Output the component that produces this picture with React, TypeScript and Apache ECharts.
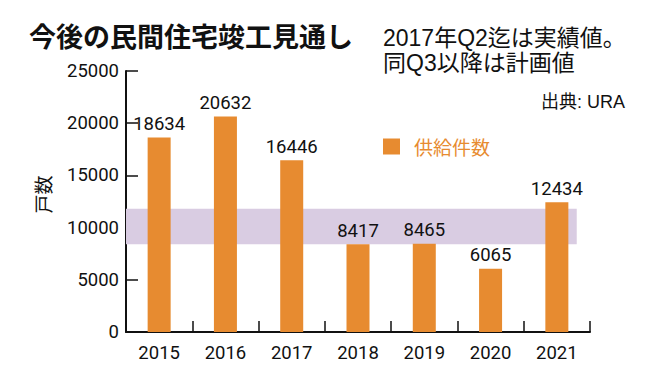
import React, { useEffect, useRef } from 'react';
import * as echarts from 'echarts';

const categories = ['2015', '2016', '2017', '2018', '2019', '2020', '2021'];
const supply = [18634, 20632, 16446, 8417, 8465, 6065, 12434];
const seriesName = '供給件数';
const bandLow = 8400;
const bandHigh = 11800;
const bandEnd = 6.8;
const yMin = 0;
const yMax = 25000;
const yInterval = 5000;

const titleText = '今後の民間住宅竣工見通し';
const noteText = '2017年Q2迄は実績値。\n同Q3以降は計画値';
const sourceText = '出典: URA';
const yName = '戸数';

const ORANGE = '#E78B30';
const BAND = '#D9CCE2';
const INK = '#111111';
const NUM_FONT = 'Roboto, "Liberation Sans", sans-serif';
const CJK_FONT = '"Liberation Sans", "Noto Sans CJK JP", sans-serif';
const JP_FONT = '"Noto Sans CJK JP", sans-serif';

export default function App() {
  const ref = useRef<HTMLDivElement>(null);
  useEffect(() => {
    document.body.style.margin = '0';
    const chart = echarts.init(ref.current!, null, { renderer: 'svg' });
    chart.setOption({
      animation: false,
      backgroundColor: '#ffffff',
      title: [
        {
          text: titleText,
          left: 29,
          top: 22,
          padding: 0,
          textStyle: { fontSize: 27, fontWeight: 'bold', color: INK, fontFamily: JP_FONT },
        },
        {
          text: noteText,
          left: 383,
          top: 25,
          padding: 0,
          textStyle: { fontSize: 23, fontWeight: 'normal', color: INK, lineHeight: 25, fontFamily: CJK_FONT },
        },
        {
          text: sourceText,
          right: 35,
          top: 93,
          padding: 0,
          textStyle: { fontSize: 18, fontWeight: 'normal', color: INK, fontFamily: CJK_FONT },
        },
      ],
      legend: {
        data: [seriesName],
        left: 383,
        top: 137,
        padding: 0,
        icon: 'rect',
        itemWidth: 17,
        itemHeight: 16,
        textStyle: { color: ORANGE, fontSize: 19, fontFamily: JP_FONT, padding: [0, 0, 0, 9] },
      },
      grid: { left: 126, right: 70, top: 71, bottom: 52, containLabel: false },
      xAxis: [
        {
          type: 'category',
          data: categories,
          boundaryGap: true,
          axisLine: { show: true, lineStyle: { color: INK, width: 2 } },
          axisTick: { show: true, inside: true, length: 11, lineStyle: { color: INK, width: 1.5 } },
          axisLabel: { color: INK, fontSize: 18.5, margin: 11, fontFamily: NUM_FONT },
          splitLine: { show: false },
        },
        {
          type: 'value',
          min: 0,
          max: categories.length,
          show: false,
          splitLine: { show: false },
        },
      ],
      yAxis: {
        type: 'value',
        min: yMin,
        max: yMax,
        interval: yInterval,
        name: yName,
        nameLocation: 'middle',
        nameRotate: 90,
        nameGap: 74,
        nameTextStyle: { color: INK, fontSize: 19, fontFamily: JP_FONT, padding: [0, 0, 0, 14] },
        axisLine: { show: true, lineStyle: { color: INK, width: 2 } },
        axisTick: { show: true, inside: true, length: 12, lineStyle: { color: INK, width: 1.5 } },
        axisLabel: {
          color: INK,
          fontSize: 18.5,
          margin: 7,
          fontFamily: NUM_FONT,
          formatter: (v: number) => String(v),
        },
        splitLine: { show: false },
      },
      series: [
        {
          type: 'line',
          xAxisIndex: 1,
          data: [],
          silent: true,
          z: 1,
          markArea: {
            silent: true,
            itemStyle: { color: BAND, opacity: 1 },
            data: [[{ coord: [0, bandLow] }, { coord: [bandEnd, bandHigh] }]],
          },
        },
        {
          name: seriesName,
          type: 'bar',
          data: supply,
          barWidth: 23,
          z: 3,
          itemStyle: { color: ORANGE },
          label: {
            show: true,
            position: 'top',
            distance: 4,
            color: INK,
            fontSize: 18.5,
            fontFamily: NUM_FONT,
          },
        },
      ],
    });
    return () => chart.dispose();
  }, []);
  return <div ref={ref} style={{ width: 660, height: 384 }} />;
}
